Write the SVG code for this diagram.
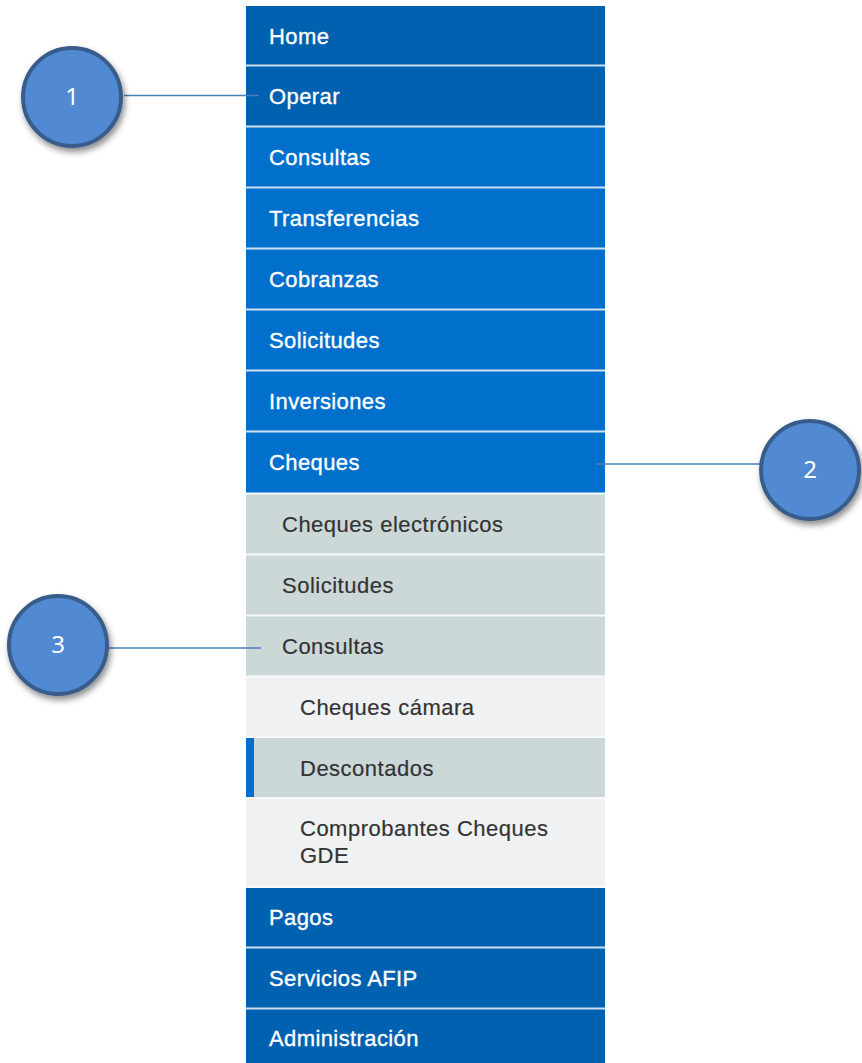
<svg xmlns="http://www.w3.org/2000/svg" width="862" height="1063" viewBox="0 0 862 1063">
<defs>
<style>
.dk{fill:#0061b0}
.bt{fill:#0070cc}
.gr{fill:#ccd8d8}
.lt{fill:#eff1f3}
.sepb{stroke:#cfdff0;stroke-width:2}
.sepw{stroke:#f7f9fa;stroke-width:2}
.tw{font-family:"Liberation Sans",Arial,sans-serif;font-size:22px;fill:#ffffff;stroke:#ffffff;stroke-width:0.35px;letter-spacing:0.4px}
.tg{font-family:"Liberation Sans",Arial,sans-serif;font-size:22px;fill:#333333;stroke:#333333;stroke-width:0.2px;letter-spacing:0.5px}
.circ{fill:#5189d3;stroke:#385d8a;stroke-width:4}
.num{font-family:"Noto Sans","Open Sans",sans-serif;font-size:24px;fill:#ffffff;text-anchor:middle}
.conn{stroke:#4a7ebb;stroke-width:1.5;fill:none}
</style>
<filter id="sh" x="-30%" y="-30%" width="170%" height="170%">
<feDropShadow dx="2" dy="4" stdDeviation="3" flood-color="#000" flood-opacity="0.45"/>
</filter>
</defs>
<rect width="862" height="1063" fill="#ffffff"/>

<g id="menu">
<g id="n-home"><rect class="dk" x="246" y="6" width="359" height="59.5"/><text class="tw" x="269" y="44">Home</text></g>
<g id="n-operar"><rect class="dk" x="246" y="65.5" width="359" height="61"/><text class="tw" x="269" y="104">Operar</text></g>
<g id="n-consultas"><rect class="bt" x="246" y="126.5" width="359" height="61"/><text class="tw" x="269" y="165">Consultas</text></g>
<g id="n-transferencias"><rect class="bt" x="246" y="187.5" width="359" height="61"/><text class="tw" x="269" y="226">Transferencias</text></g>
<g id="n-cobranzas"><rect class="bt" x="246" y="248.5" width="359" height="61"/><text class="tw" x="269" y="287">Cobranzas</text></g>
<g id="n-solicitudes"><rect class="bt" x="246" y="309.5" width="359" height="61"/><text class="tw" x="269" y="348">Solicitudes</text></g>
<g id="n-inversiones"><rect class="bt" x="246" y="370.5" width="359" height="61"/><text class="tw" x="269" y="409">Inversiones</text></g>
<g id="n-cheques"><rect class="bt" x="246" y="431.5" width="359" height="62"/><text class="tw" x="269" y="470">Cheques</text></g>
<g id="n-cheques-electronicos"><rect class="gr" x="246" y="493.5" width="359" height="61"/><text class="tg" x="282" y="532">Cheques electrónicos</text></g>
<g id="n-sub-solicitudes"><rect class="gr" x="246" y="554.5" width="359" height="61"/><text class="tg" x="282" y="593">Solicitudes</text></g>
<g id="n-sub-consultas"><rect class="gr" x="246" y="615.5" width="359" height="61"/><text class="tg" x="282" y="654">Consultas</text></g>
<g id="n-cheques-camara"><rect class="lt" x="246" y="676.5" width="359" height="60.5"/><text class="tg" x="300" y="715">Cheques cámara</text></g>
<g id="n-descontados"><rect class="gr" x="246" y="737" width="359" height="61"/><rect class="bt" x="246" y="737" width="8" height="61"/><text class="tg" x="300" y="776">Descontados</text></g>
<g id="n-comprobantes"><rect class="lt" x="246" y="798" width="359" height="89"/><text class="tg" x="300" y="836">Comprobantes Cheques</text><text class="tg" x="300" y="863">GDE</text></g>
<g id="n-pagos"><rect class="dk" x="246" y="887" width="359" height="60.5"/><text class="tw" x="269" y="925">Pagos</text></g>
<g id="n-servicios-afip"><rect class="dk" x="246" y="947.5" width="359" height="61"/><text class="tw" x="269" y="986">Servicios AFIP</text></g>
<g id="n-administracion"><rect class="dk" x="246" y="1008.5" width="359" height="54.5"/><text class="tw" x="269" y="1046">Administración</text></g>
<g id="separators">
<line class="sepb" x1="246" y1="65.5" x2="605" y2="65.5"/>
<line class="sepb" x1="246" y1="126.5" x2="605" y2="126.5"/>
<line class="sepb" x1="246" y1="187.5" x2="605" y2="187.5"/>
<line class="sepb" x1="246" y1="248.5" x2="605" y2="248.5"/>
<line class="sepb" x1="246" y1="309.5" x2="605" y2="309.5"/>
<line class="sepb" x1="246" y1="370.5" x2="605" y2="370.5"/>
<line class="sepb" x1="246" y1="431.5" x2="605" y2="431.5"/>
<line class="sepw" x1="246" y1="493.5" x2="605" y2="493.5"/>
<line class="sepw" x1="246" y1="554.5" x2="605" y2="554.5"/>
<line class="sepw" x1="246" y1="615.5" x2="605" y2="615.5"/>
<line class="sepw" x1="246" y1="676.5" x2="605" y2="676.5"/>
<line class="sepw" x1="246" y1="737" x2="605" y2="737"/>
<line class="sepw" x1="246" y1="798" x2="605" y2="798"/>
<line class="sepw" x1="246" y1="887" x2="605" y2="887"/>
<line class="sepb" x1="246" y1="947.5" x2="605" y2="947.5"/>
<line class="sepb" x1="246" y1="1008.5" x2="605" y2="1008.5"/>
</g>
</g>

<g id="connectors">
<line class="conn" x1="124" y1="95.5" x2="259" y2="95.5"/>
<line class="conn" x1="595" y1="464" x2="762" y2="464"/>
<line class="conn" x1="108" y1="648" x2="261" y2="648"/>
</g>

<g id="c1"><circle class="circ" cx="72" cy="97" r="49" filter="url(#sh)"/><text class="num" x="72" y="105">1</text></g>
<g id="c2"><circle class="circ" cx="810" cy="470" r="49" filter="url(#sh)"/><text class="num" x="810" y="478">2</text></g>
<g id="c3"><circle class="circ" cx="58" cy="645" r="49" filter="url(#sh)"/><text class="num" x="58" y="653">3</text></g>
</svg>
